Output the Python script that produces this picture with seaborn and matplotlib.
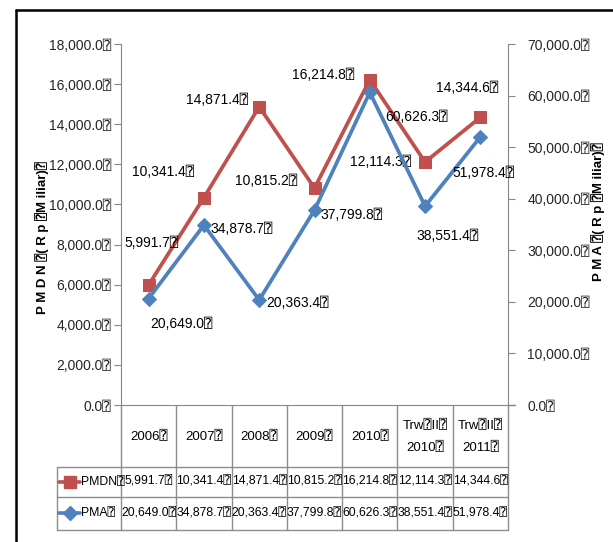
import matplotlib
matplotlib.use("Agg")
import matplotlib.pyplot as plt
import matplotlib.transforms as mtransforms
from matplotlib.lines import Line2D
import seaborn as sns
import pandas as pd

# ---- data -------------------------------------------------------------
categories = ["2006⍰", "2007⍰", "2008⍰", "2009⍰", "2010⍰",
              "Trw⍰II⍰\n2010⍰", "Trw⍰II⍰\n2011⍰"]
pmdn = [5991.7, 10341.4, 14871.4, 10815.2, 16214.8, 12114.3, 14344.6]
pma = [20649.0, 34878.7, 20363.4, 37799.8, 60626.3, 38551.4, 51978.4]
left_ticks = [0, 2000, 4000, 6000, 8000, 10000, 12000, 14000, 16000, 18000]
right_ticks = [0, 10000, 20000, 30000, 40000, 50000, 60000, 70000]

RED = "#C0504D"
BLUE = "#4F81BD"
GRAY = "#868686"
W, H = 613, 542

sns.set_style("white")
FAM = ["Liberation Sans", "DejaVu Sans", "DejaVu Sans Mono"]
plt.rcParams["font.family"] = FAM
plt.rcParams["font.size"] = 10
plt.rcParams["text.color"] = "black"

df = pd.DataFrame({"pos": range(len(categories)), "PMDN": pmdn, "PMA": pma})

fig = plt.figure(figsize=(W / 100, H / 100), dpi=100)
fig.patch.set_facecolor("white")


def px(x, y):
    return x / W, 1 - y / H


x0, x1, ytop, ybot = 121, 508, 44, 405
ax = fig.add_axes([x0 / W, 1 - ybot / H, (x1 - x0) / W, (ybot - ytop) / H])
ax2 = ax.twinx()

sns.lineplot(data=df, x="pos", y="PMDN", ax=ax, color=RED, linewidth=2.7,
             marker="s", markersize=9, markeredgecolor=RED, zorder=3)
sns.lineplot(data=df, x="pos", y="PMA", ax=ax2, color=BLUE, linewidth=2.7,
             marker="D", markersize=7.5, markeredgecolor=BLUE, zorder=3)

ax.set_xlim(-0.5, len(categories) - 0.5)
ax.set_ylim(0, 18000)
ax2.set_ylim(0, 70000)
ax.set_yticks(left_ticks)
ax.set_yticklabels([f"{v:,.1f}⍰" for v in left_ticks])
ax2.set_yticks(right_ticks)
ax2.set_yticklabels([f"{v:,.1f}⍰" for v in right_ticks])
ax.set_xticks([])
ax.set_xlabel("")
ax.set_ylabel("")
ax2.set_ylabel("")

for a in (ax, ax2):
    for s in a.spines.values():
        s.set_visible(False)
ax.spines["left"].set_visible(True)
ax.spines["left"].set_color(GRAY)
ax.spines["bottom"].set_visible(True)
ax.spines["bottom"].set_color(GRAY)
ax2.spines["right"].set_visible(True)
ax2.spines["right"].set_color(GRAY)
ax.tick_params(axis="y", direction="out", length=5, color=GRAY, pad=2,
               labelsize=10, left=True)
ax2.tick_params(axis="y", direction="out", length=5, color=GRAY, pad=9,
                labelsize=10, right=True)

# data labels (offsets in pixels)
pmdn_off = [(3, 42), (-41, 26), (-42, 7), (-48, 7), (-47, 5), (-45, 0), (-13, 29)]
pma_off = [(33, -25), (38, -4), (38, -3), (37, -5), (47, -25), (22, -30), (3, -36)]
for i, v in enumerate(pmdn):
    ax.annotate(f"{v:,.1f}⍰", (i, v), xytext=pmdn_off[i], textcoords="offset pixels",
                ha="center", va="center", fontsize=10, zorder=5)
for i, v in enumerate(pma):
    ax2.annotate(f"{v:,.1f}⍰", (i, v), xytext=pma_off[i], textcoords="offset pixels",
                 ha="center", va="center", fontsize=10, zorder=5)

# axis titles
fig.text(*px(42, 238), "P M D N ⍰( R p ⍰M iliar)⍰", rotation=90,
         ha="center", va="center", fontsize=9.5, fontweight="bold")
fig.text(*px(598, 212), "P M A ⍰( R p ⍰M iliar)⍰", rotation=90,
         ha="center", va="center", fontsize=9.5, fontweight="bold")

# data table under the plot
bt = mtransforms.blended_transform_factory(ax.transData, fig.transFigure)
n = len(categories)
row_head, row1, row2, row_end = 405, 467, 497, 530
lc = "#8C8C8C"
for k in range(n + 1):
    fig.add_artist(Line2D([k - 0.5, k - 0.5], [px(0, row_head)[1], px(0, row_end)[1]],
                          transform=bt, color=lc, lw=1))
for yy in (row1, row2, row_end):
    fig.add_artist(Line2D([57 / W, x1 / W], [px(0, yy)[1]] * 2,
                          transform=fig.transFigure, color=lc, lw=1))
fig.add_artist(Line2D([57 / W, 57 / W], [px(0, row1)[1], px(0, row_end)[1]],
                      transform=fig.transFigure, color=lc, lw=1))
fig.add_artist(Line2D([x1 / W, 515 / W], [px(0, ybot)[1]] * 2,
                      transform=fig.transFigure, color=GRAY, lw=1))

TFS = 8.8
for i, c in enumerate(categories):
    fig.text(i, px(0, 437)[1], c, transform=bt, ha="center", va="center",
             fontsize=9.5, linespacing=2.1)
    fig.text(i, px(0, 482)[1], f"{pmdn[i]:,.1f}⍰", transform=bt,
             ha="center", va="center", fontsize=TFS)
    fig.text(i, px(0, 513)[1], f"{pma[i]:,.1f}⍰", transform=bt,
             ha="center", va="center", fontsize=TFS)

# legend keys inside the table
fig.add_artist(Line2D([59 / W, 80 / W], [px(0, 482)[1]] * 2, transform=fig.transFigure,
                      color=RED, lw=2.6))
fig.add_artist(Line2D([69.5 / W], [px(0, 482)[1]], transform=fig.transFigure,
                      color=RED, marker="s", markersize=8, lw=0))
fig.add_artist(Line2D([59 / W, 80 / W], [px(0, 513)[1]] * 2, transform=fig.transFigure,
                      color=BLUE, lw=2.6))
fig.add_artist(Line2D([69.5 / W], [px(0, 513)[1]], transform=fig.transFigure,
                      color=BLUE, marker="D", markersize=7, lw=0))
fig.text(*px(81, 482), "PMDN⍰", ha="left", va="center", fontsize=TFS)
fig.text(*px(81, 513), "PMA⍰", ha="left", va="center", fontsize=TFS)

# outer frame
fig.add_artist(Line2D([16 / W, 1.0], [px(0, 10)[1]] * 2, transform=fig.transFigure,
                      color="black", lw=1.8))
fig.add_artist(Line2D([16 / W, 16 / W], [px(0, 10)[1], 0.0], transform=fig.transFigure,
                      color="black", lw=1.8))

fig.savefig("out.png", dpi=100, facecolor="white")
